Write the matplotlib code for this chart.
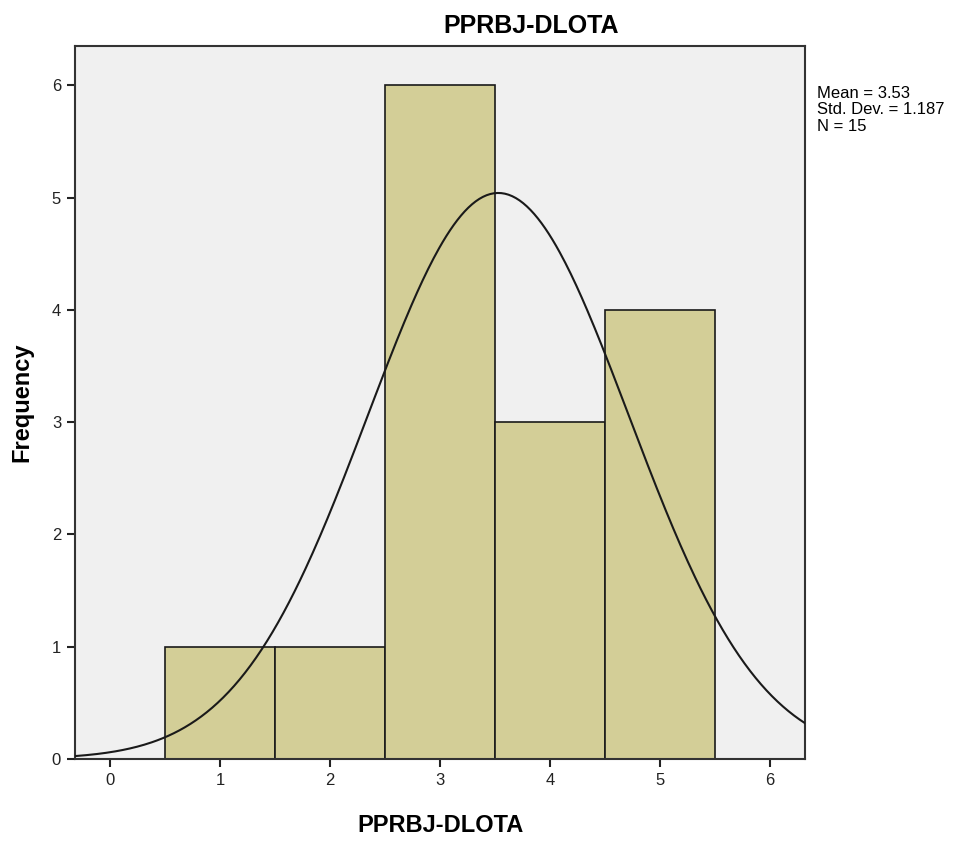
import numpy as np
import matplotlib
matplotlib.use("Agg")
import matplotlib.pyplot as plt

plt.rcParams['font.family'] = ['Liberation Sans', 'DejaVu Sans']

# Data
bin_centers = [1, 2, 3, 4, 5]
frequencies = [1, 1, 6, 3, 4]
mean_val = 3.53
std_val = 1.187
n_val = 15
bin_width = 1.0
title = "PPRBJ-DLOTA"
xlabel = "PPRBJ-DLOTA"
ylabel = "Frequency"
xticks = [0, 1, 2, 3, 4, 5, 6]
yticks = [0, 1, 2, 3, 4, 5, 6]

fig = plt.figure(figsize=(9.69, 8.43), dpi=100)
ax = fig.add_axes([0.0774, 0.0996, 0.7533, 0.8458])
ax.set_facecolor('#F0F0F0')

ax.bar(bin_centers, frequencies, width=bin_width, color='#D3CE97',
       edgecolor='#1a1a1a', linewidth=1.2, zorder=2)

xs = np.linspace(-0.318, 6.318, 400)
ys = n_val * bin_width / (std_val * np.sqrt(2 * np.pi)) * np.exp(-0.5 * ((xs - mean_val) / std_val) ** 2)
ax.plot(xs, ys, color='#1a1a1a', linewidth=1.5, zorder=3)

ax.set_xlim(-0.318, 6.318)
ax.set_ylim(0, 6.35)
ax.set_xticks(xticks)
ax.set_yticks(yticks)
ax.tick_params(axis='both', direction='out', length=6, width=1.5, labelsize=12,
               colors='#222222', pad=4)
for s in ax.spines.values():
    s.set_linewidth(1.5)
    s.set_color('#333333')

fig.text(0.548, 0.9609, title, fontsize=18, fontweight='bold', ha='center', va='baseline')
fig.text(0.455, 0.0130, xlabel, fontsize=17, fontweight='bold', ha='center', va='baseline')
fig.text(0.0227, 0.523, ylabel, fontsize=17, fontweight='bold', ha='center', va='center',
         rotation=90)

fig.text(0.843, 0.898, f"Mean = {mean_val:.2f}\nStd. Dev. = {std_val:.3f}\nN = {n_val}",
         fontsize=12, va='top', ha='left', linespacing=1.12)

fig.savefig("out.png", dpi=100)
